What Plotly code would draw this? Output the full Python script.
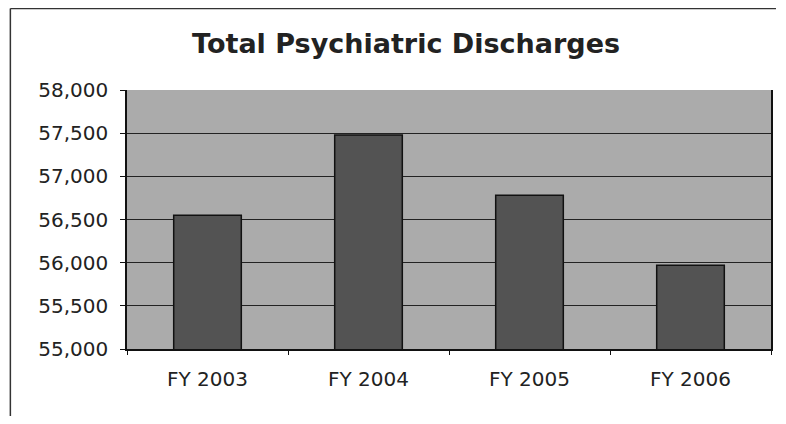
import plotly.graph_objects as go

categories = ["FY 2003", "FY 2004", "FY 2005", "FY 2006"]
discharges = [56550, 57480, 56780, 55970]
y_ticks = [55000, 55500, 56000, 56500, 57000, 57500, 58000]
y_tick_labels = ["55,000", "55,500", "56,000", "56,500", "57,000", "57,500", "58,000"]

fig = go.Figure()
fig.add_trace(go.Bar(
    x=categories, y=discharges,
    marker=dict(color="#535353", line=dict(color="#111111", width=1.5)),
    width=0.42,
))

font = "DejaVu Sans, Liberation Sans, Arial, sans-serif"
W, H = 770, 408
L, R, T, B = 119, 5, 82, 67
pw, ph = W - L - R, H - T - B

fig.update_layout(
    width=W, height=H,
    margin=dict(l=L, r=R, t=T, b=B),
    paper_bgcolor="white",
    plot_bgcolor="#ababab",
    showlegend=False,
    title=dict(text="<b>Total Psychiatric Discharges</b>", x=0.517, xanchor="center",
               y=0.912, yanchor="middle",
               font=dict(family=font, size=27, color="#222222")),
    font=dict(family=font, size=20, color="#222222"),
    xaxis=dict(
        showgrid=False, showline=True, linecolor="#111111", linewidth=1.5,
        ticks="outside", ticklen=4, tickcolor="#111111", tickson="boundaries",
        ticklabelstandoff=11, tickfont=dict(size=20),
    ),
    yaxis=dict(
        range=[55000, 58000], tickvals=y_ticks, ticktext=y_tick_labels,
        showgrid=True, gridcolor="#222222", gridwidth=1.3,
        showline=True, linecolor="#111111", linewidth=1.5, mirror=True,
        ticks="outside", ticklen=5, tickcolor="#111111",
        ticklabelstandoff=8, tickfont=dict(size=20),
    ),
)
# outer chart frame (left and top edges, as in the scanned figure)
fx = (2 - L) / pw
fy = 1 + (T - 0.5) / ph
fig.add_shape(type="line", xref="paper", yref="paper", x0=fx, x1=fx, y0=-B / ph, y1=fy,
              line=dict(color="#333333", width=1.5))
fig.add_shape(type="line", xref="paper", yref="paper", x0=fx, x1=1 + R / pw, y0=fy, y1=fy,
              line=dict(color="#333333", width=1.5))
fig.write_html("out.html")
